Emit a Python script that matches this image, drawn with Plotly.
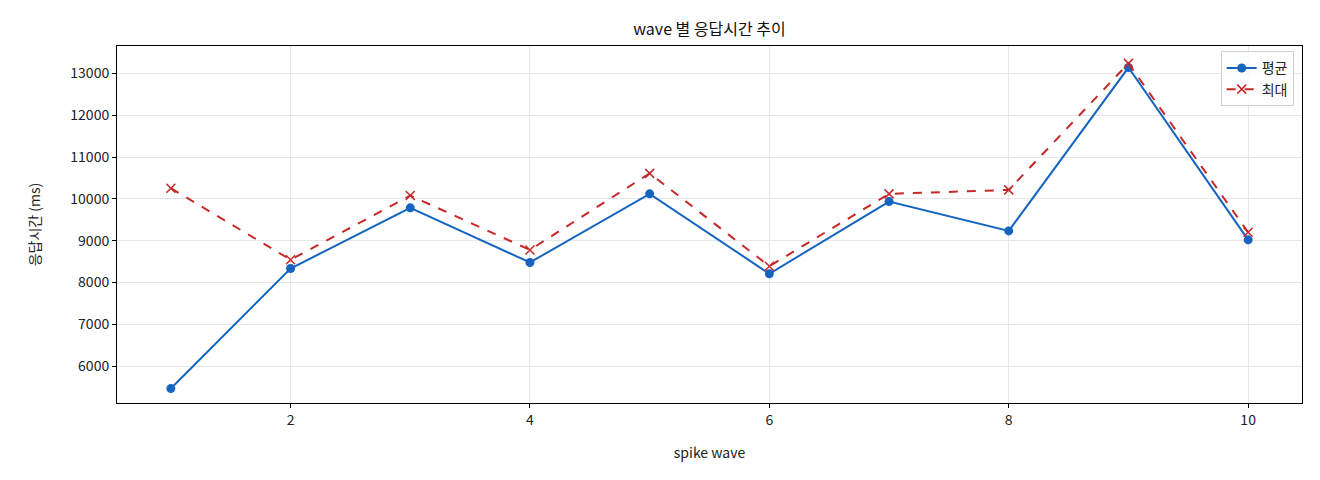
import plotly.graph_objects as go

# spike wave 별 응답시간 (ms)
waves = [1, 2, 3, 4, 5, 6, 7, 8, 9, 10]
avg_ms = [5465, 8335, 9785, 8480, 10120, 8210, 9935, 9235, 13140, 9020]
max_ms = [10255, 8545, 10080, 8780, 10610, 8390, 10120, 10215, 13240, 9200]

font_name = "Noto Sans CJK KR"

fig = go.Figure()

fig.add_scatter(x=waves, y=avg_ms, name='평균', mode='lines+markers',
                line=dict(color='#1565C0', width=2),
                marker=dict(symbol='circle', size=9, color='#1565C0'))

fig.add_scatter(x=waves, y=max_ms, name='최대', mode='lines+markers',
                line=dict(color='#C62828', width=2, dash='dash'),
                marker=dict(symbol='x-thin', size=9,
                            line=dict(color='#C62828', width=1.5)))

axis_style = dict(showline=True, linecolor='black', linewidth=1, mirror=True,
                  ticks='outside', ticklen=4, tickcolor='black',
                  showgrid=True, gridcolor='#e6e6e6', gridwidth=1,
                  zeroline=False, tickfont=dict(size=14, color='#222'))

fig.update_xaxes(range=[0.55, 10.45], tickvals=[2, 4, 6, 8, 10],
                 title=dict(text='spike wave', font=dict(size=14), standoff=20),
                 **axis_style)
fig.update_yaxes(range=[5120, 13655], dtick=1000, tickformat='d',
                 title=dict(text='응답시간 (ms)', font=dict(size=14), standoff=26),
                 **axis_style)

# page body has an 8px margin, so the figure is drawn 8px smaller
fig.update_layout(
    width=1312, height=472,
    margin=dict(l=109, r=18, t=38, b=77),
    paper_bgcolor='white', plot_bgcolor='white',
    font=dict(family=font_name, size=13, color='#222'),
    title=dict(text='wave 별 응답시간 추이', x=0.5, xanchor='center',
               xref='paper', y=0.955, yanchor='middle',
               font=dict(size=16, color='#111')),
    showlegend=True,
    legend=dict(x=0.993, y=0.985, xanchor='right', yanchor='top',
                bgcolor='rgba(255,255,255,0.8)', bordercolor='#d0d0d0',
                borderwidth=1, font=dict(size=14)),
)

fig.write_html("out.html")
